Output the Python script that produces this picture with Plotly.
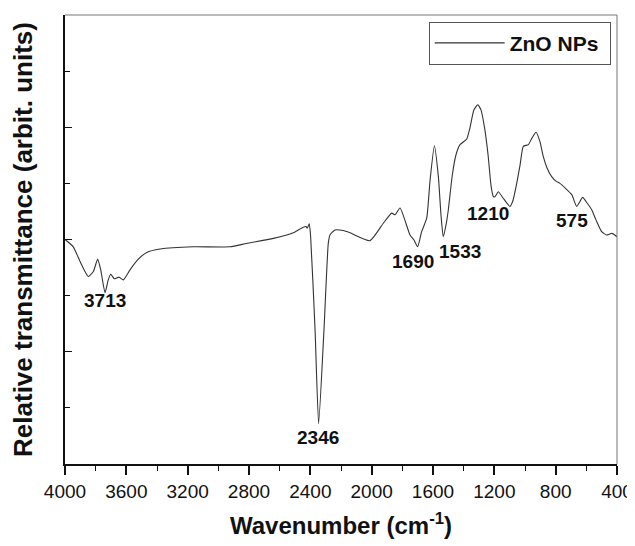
import plotly.graph_objects as go

wavenumber = [4000, 3946, 3902, 3848, 3815, 3787, 3767, 3739, 3718, 3702, 3678, 3648, 3620, 3576,
              3522, 3467, 3380, 3163, 2924, 2816, 2641, 2511, 2446, 2428, 2420, 2407, 2398, 2369,
              2346, 2311, 2283, 2272, 2239, 2185, 2141, 2011, 1924, 1869, 1848, 1815, 1750, 1724,
              1700, 1674, 1641, 1619, 1591, 1565, 1548, 1533, 1515, 1500, 1474, 1450, 1424, 1380,
              1359, 1333, 1308, 1287, 1265, 1241, 1222, 1207, 1196, 1174, 1143, 1098, 1078, 1054,
              1032, 1011, 978, 954, 928, 902, 881, 857, 826, 798, 772, 739, 695, 663, 624, 595,
              565, 537, 500, 467, 434, 400]
transmittance = [4.00, 3.87, 3.61, 3.34, 3.43, 3.65, 3.46, 3.05, 3.28, 3.38, 3.30, 3.33, 3.28, 3.46,
                 3.65, 3.77, 3.83, 3.87, 3.87, 3.93, 4.02, 4.12, 4.22, 4.23, 4.20, 4.28, 4.05, 2.38,
                 0.72, 2.39, 3.93, 4.08, 4.17, 4.16, 4.12, 3.98, 4.29, 4.47, 4.44, 4.56, 4.08, 3.99,
                 3.87, 4.14, 4.38, 5.06, 5.67, 5.12, 4.44, 4.05, 4.26, 4.53, 5.15, 5.51, 5.69, 5.79,
                 5.99, 6.31, 6.40, 6.31, 6.01, 5.51, 4.97, 4.77, 4.76, 4.85, 4.74, 4.59, 4.70, 5.00,
                 5.33, 5.66, 5.69, 5.81, 5.91, 5.74, 5.48, 5.28, 5.12, 5.04, 5.00, 4.92, 4.80, 4.59,
                 4.75, 4.65, 4.53, 4.35, 4.14, 4.08, 4.11, 4.05]

peak_labels = ["3713", "2346", "1690", "1533", "1210", "575"]
peak_label_x = [3739, 2348, 1732, 1425, 1241, 695]
peak_label_y = [2.92, 0.48, 3.60, 3.78, 4.46, 4.33]

x_ticks = [4000, 3600, 3200, 2800, 2400, 2000, 1600, 1200, 800, 400]

FONT = "Liberation Sans, Arial"

fig = go.Figure()
fig.add_trace(go.Scatter(
    x=wavenumber, y=transmittance, mode="lines", name="<b>ZnO NPs</b>&nbsp;",
    line=dict(color="#333333", width=1.1, shape="spline", smoothing=0.5),
))

for t, xv, yv in zip(peak_labels, peak_label_x, peak_label_y):
    fig.add_annotation(x=xv, y=yv, text="<b>%s</b>" % t, showarrow=False,
                       font=dict(family=FONT, size=19, color="#111111"),
                       xanchor="center", yanchor="middle")

# the page body has an 8px default margin, so the figure is 8px smaller
fig.update_layout(
    width=627, height=538,
    margin=dict(l=57, r=18, t=7, b=82, autoexpand=False),
    paper_bgcolor="white", plot_bgcolor="white",
    showlegend=True,
    legend=dict(x=0.9886, y=0.985, xanchor="right", yanchor="top",
                bordercolor="#555555", borderwidth=1, bgcolor="white",
                font=dict(family=FONT, size=21, color="#111111"),
                itemwidth=70),
    font=dict(family=FONT, color="#111111"),
)

fig.update_xaxes(
    range=[4000, 400], autorange=False, automargin=False,
    tickmode="array", tickvals=x_ticks, ticktext=[str(v) for v in x_ticks],
    ticks="outside", ticklen=9, tickwidth=1.5, tickcolor="#111111",
    ticklabeloverflow="allow",
    minor=dict(dtick=200, tick0=0, ticks="outside", ticklen=5, tickwidth=1, tickcolor="#111111"),
    showline=True, linecolor="#111111", linewidth=2,
    showgrid=False, zeroline=False,
    tickfont=dict(family=FONT, size=19, color="#111111"),
    title=dict(text="<b>Wavenumber (cm<sup>-1</sup>)</b>", standoff=16,
               font=dict(family=FONT, size=24, color="#111111")),
)
fig.update_yaxes(
    range=[0, 8], autorange=False, automargin=False,
    tickmode="linear", tick0=0, dtick=2, showticklabels=False,
    ticks="inside", ticklen=7, tickwidth=1.2, tickcolor="#111111",
    minor=dict(dtick=1, ticks="inside", ticklen=5, tickwidth=1, tickcolor="#111111"),
    showline=True, linecolor="#111111", linewidth=2,
    showgrid=False, zeroline=False,
    title=dict(text="<b>Relative transmittance (arbit. units)</b>", standoff=24,
               font=dict(family=FONT, size=26, color="#111111")),
)

fig.add_shape(type="line", xref="paper", yref="paper", x0=0, x1=1, y0=1, y1=1,
              line=dict(color="#777777", width=1))
fig.add_shape(type="line", xref="paper", yref="paper", x0=1, x1=1, y0=0, y1=1,
              line=dict(color="#777777", width=1))

fig.write_html("out.html")
